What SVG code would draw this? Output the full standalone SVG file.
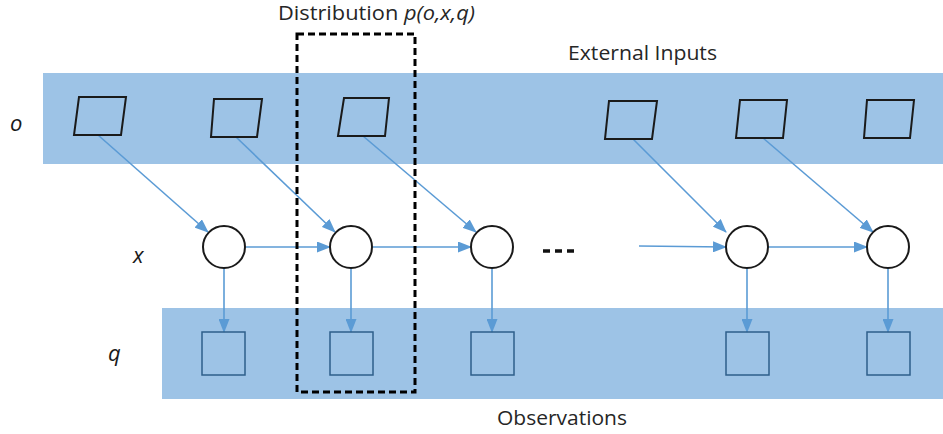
<svg xmlns="http://www.w3.org/2000/svg" width="943" height="434" viewBox="0 0 943 434">
<style>
.band{fill:#9dc3e6}
.para{fill:none;stroke:#1a1a1a;stroke-width:2;stroke-linejoin:miter}
.circ{fill:#fff;stroke:#1a1a1a;stroke-width:2}
.sq{fill:none;stroke:#2e5f8a;stroke-width:1.5}
.edge{stroke:#5b9bd5;stroke-width:1.6;fill:none;marker-end:url(#ah)}
.lbl{font-family:"Open Sans","Liberation Sans",sans-serif;font-size:19.5px;fill:#262626}
.var{font-family:"Open Sans","Liberation Sans",sans-serif;font-size:22px;font-style:italic;fill:#1a1a1a}
</style>
<defs>
<marker id="ah" markerWidth="14" markerHeight="11" refX="13" refY="5.5" orient="auto" markerUnits="userSpaceOnUse">
<path d="M0,0 L14,5.5 L0,11 z" fill="#5b9bd5"/>
</marker>
</defs>
<rect width="943" height="434" fill="#fff"/>
<g id="bands">
<rect class="band" x="43" y="73" width="900" height="91"/>
<rect class="band" x="162" y="308" width="781" height="91"/>
</g>
<g id="labels">
<text class="lbl" x="278" y="20" textLength="197" lengthAdjust="spacingAndGlyphs">Distribution <tspan font-style="italic">p(o,x,q)</tspan></text>
<text class="lbl" x="568" y="60" textLength="149" lengthAdjust="spacingAndGlyphs">External Inputs</text>
<text class="lbl" x="497" y="425" textLength="130" lengthAdjust="spacingAndGlyphs">Observations</text>
<text class="var" x="10" y="131">o</text>
<text class="var" x="133" y="263">x</text>
<text class="var" x="108" y="361">q</text>
</g>
<g id="connectors">
<line class="edge" x1="98" y1="135" x2="208" y2="232"/>
<line class="edge" x1="236" y1="137" x2="335" y2="232"/>
<line class="edge" x1="363" y1="136" x2="476" y2="232"/>
<line class="edge" x1="633" y1="139" x2="726" y2="232"/>
<line class="edge" x1="763" y1="138" x2="873" y2="232"/>
<line class="edge" x1="246" y1="247" x2="330" y2="247"/>
<line class="edge" x1="373" y1="247" x2="471" y2="247"/>
<line class="edge" x1="639" y1="246" x2="726" y2="247"/>
<line class="edge" x1="768" y1="247" x2="867" y2="247"/>
<line class="edge" x1="224" y1="268" x2="224" y2="332"/>
<line class="edge" x1="351" y1="268" x2="351" y2="332"/>
<line class="edge" x1="492" y1="268" x2="492" y2="332"/>
<line class="edge" x1="747" y1="268" x2="747" y2="332"/>
<line class="edge" x1="888" y1="268" x2="888" y2="332"/>
</g>
<g id="o1"><polygon class="para" points="79,97 126,97 121,135 74,135"/></g>
<g id="o2"><polygon class="para" points="214,99 262,99 257,137 211,137"/></g>
<g id="o3"><polygon class="para" points="344,98 389,98 385,136 338,136"/></g>
<g id="o4"><polygon class="para" points="609,101 657,101 652,139 605,139"/></g>
<g id="o5"><polygon class="para" points="740,100 787,100 783,138 736,138"/></g>
<g id="o6"><polygon class="para" points="867,100 914,100 910,138 864,138"/></g>
<g id="x1"><circle class="circ" cx="224" cy="247" r="21"/></g>
<g id="x2"><circle class="circ" cx="351" cy="247" r="21"/></g>
<g id="x3"><circle class="circ" cx="492" cy="247" r="21"/></g>
<g id="x4"><circle class="circ" cx="747" cy="247" r="21"/></g>
<g id="x5"><circle class="circ" cx="888" cy="247" r="21"/></g>
<g id="q1"><rect class="sq" x="202" y="332" width="43" height="43"/></g>
<g id="q2"><rect class="sq" x="330" y="332" width="43" height="43"/></g>
<g id="q3"><rect class="sq" x="471" y="332" width="43" height="43"/></g>
<g id="q4"><rect class="sq" x="726" y="332" width="43" height="43"/></g>
<g id="q5"><rect class="sq" x="867" y="332" width="43" height="43"/></g>
<g id="ellipsis"><line x1="543" y1="251" x2="575" y2="251" stroke="#111" stroke-width="3.5" stroke-dasharray="7,5"/></g>
<g id="dist-box"><rect x="297" y="34" width="118" height="358" fill="none" stroke="#000" stroke-width="3" stroke-dasharray="7,4"/></g>
</svg>
